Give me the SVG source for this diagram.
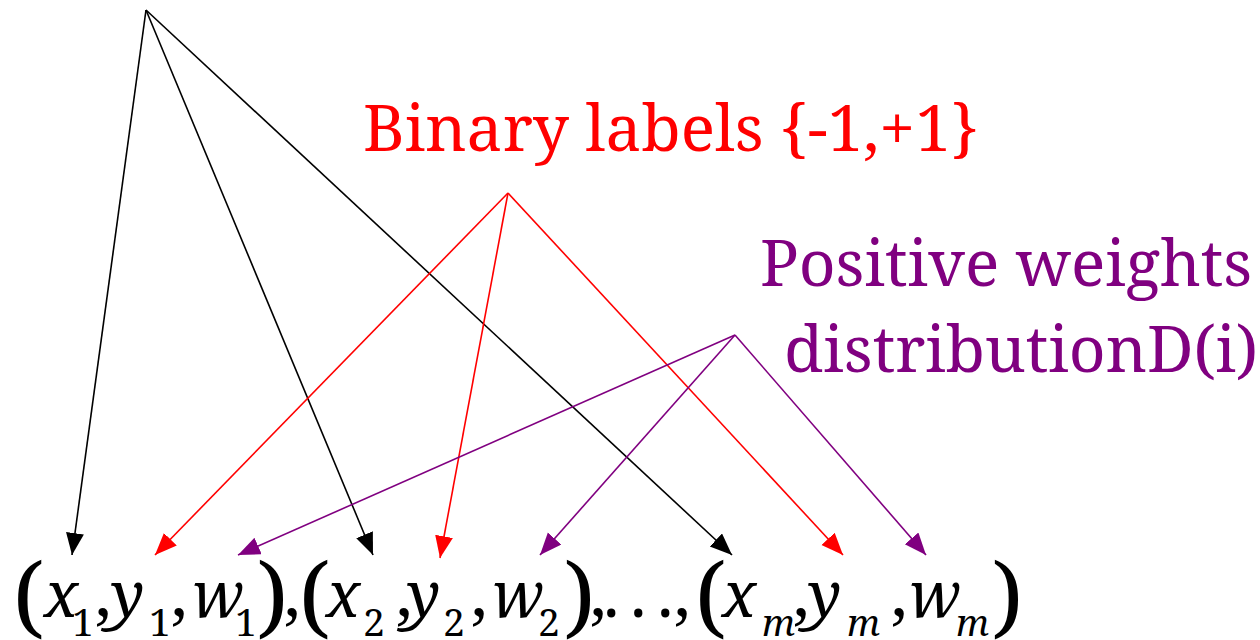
<svg xmlns="http://www.w3.org/2000/svg" width="1260" height="640" viewBox="0 0 1260 640">
<defs>
<style>
.lab{font-size:64px}
.v{font-style:italic;font-size:63px}
.s{font-size:39px}
.si{font-style:italic;font-size:37px}
.c{font-size:66px}
.p{font-size:90px}
.k{stroke:#000;stroke-width:1.6;fill:none}
.r{stroke:#FF0000;stroke-width:1.6;fill:none}
.u{stroke:#800080;stroke-width:1.6;fill:none}
</style>
<marker id="ak" markerUnits="userSpaceOnUse" markerWidth="24" markerHeight="20" refX="22" refY="9" orient="auto"><path d="M0,0 L22,9 L0,18 z" fill="#000"/></marker>
<marker id="ar" markerUnits="userSpaceOnUse" markerWidth="24" markerHeight="20" refX="22" refY="9" orient="auto"><path d="M0,0 L22,9 L0,18 z" fill="#FF0000"/></marker>
<marker id="au" markerUnits="userSpaceOnUse" markerWidth="24" markerHeight="20" refX="22" refY="9" orient="auto"><path d="M0,0 L22,9 L0,18 z" fill="#800080"/></marker>
</defs>
<rect width="1260" height="640" fill="#fff"/>
<g id="connectors">
<line class="k" x1="146" y1="10" x2="72" y2="555" marker-end="url(#ak)"/>
<line class="k" x1="146" y1="10" x2="373" y2="555" marker-end="url(#ak)"/>
<line class="k" x1="146" y1="10" x2="732" y2="555" marker-end="url(#ak)"/>
<line class="r" x1="508" y1="193" x2="155" y2="555" marker-end="url(#ar)"/>
<line class="r" x1="508" y1="193" x2="440" y2="558" marker-end="url(#ar)"/>
<line class="r" x1="508" y1="193" x2="843" y2="555" marker-end="url(#ar)"/>
<line class="u" x1="735" y1="335" x2="238" y2="555" marker-end="url(#au)"/>
<line class="u" x1="735" y1="335" x2="540" y2="555" marker-end="url(#au)"/>
<line class="u" x1="735" y1="335" x2="926" y2="555" marker-end="url(#au)"/>
</g>
<g id="binary-labels">
<text class="lab" x="363" y="151" fill="#FF0000" font-family="Noto Serif">Binary labels {-1,+1}</text>
</g>
<g id="positive-weights">
<text class="lab" x="760" y="286" fill="#800080" font-family="Noto Serif">Positive weights</text>
<text class="lab" x="784" y="372" fill="#800080" font-family="Noto Serif">distributionD(i)</text>
</g>
<g id="formula">
<text class="p" x="13" y="628" font-family="Noto Serif">(</text>
<text class="v" x="44" y="617" font-family="Noto Serif">x</text>
<text class="s" x="72" y="636" font-family="Noto Serif">1</text>
<text class="c" x="95" y="617" font-family="Noto Serif">,</text>
<text class="v" x="111" y="617" font-family="Noto Serif">y</text>
<text class="s" x="149" y="636" font-family="Noto Serif">1</text>
<text class="c" x="171" y="617" font-family="Noto Serif">,</text>
<text class="v" x="192" y="617" font-family="Noto Serif">w</text>
<text class="s" x="235" y="636" font-family="Noto Serif">1</text>
<text class="p" x="257" y="628" font-family="Noto Serif">)</text>
<text class="c" x="284" y="617" font-family="Noto Serif">,</text>
<text class="p" x="299" y="628" font-family="Noto Serif">(</text>
<text class="v" x="326" y="617" font-family="Noto Serif">x</text>
<text class="s" x="363" y="636" font-family="Noto Serif">2</text>
<text class="c" x="396" y="617" font-family="Noto Serif">,</text>
<text class="v" x="407" y="617" font-family="Noto Serif">y</text>
<text class="s" x="443" y="636" font-family="Noto Serif">2</text>
<text class="c" x="471" y="617" font-family="Noto Serif">,</text>
<text class="v" x="492" y="617" font-family="Noto Serif">w</text>
<text class="s" x="538" y="636" font-family="Noto Serif">2</text>
<text class="p" x="564" y="628" font-family="Noto Serif">)</text>
<text class="c" x="590" y="617" font-family="Noto Serif">,</text>
<text class="c" x="603" y="617" font-family="Noto Serif">.</text>
<text class="c" x="630" y="617" font-family="Noto Serif">.</text>
<text class="c" x="657" y="617" font-family="Noto Serif">.</text>
<text class="c" x="674" y="617" font-family="Noto Serif">,</text>
<text class="p" x="695" y="628" font-family="Noto Serif">(</text>
<text class="v" x="722" y="617" font-family="Noto Serif">x</text>
<text class="si" x="762" y="636" font-family="Noto Serif">m</text>
<text class="c" x="793" y="617" font-family="Noto Serif">,</text>
<text class="v" x="808" y="617" font-family="Noto Serif">y</text>
<text class="si" x="847" y="636" font-family="Noto Serif">m</text>
<text class="c" x="891" y="617" font-family="Noto Serif">,</text>
<text class="v" x="909" y="617" font-family="Noto Serif">w</text>
<text class="si" x="956" y="636" font-family="Noto Serif">m</text>
<text class="p" x="992" y="628" font-family="Noto Serif">)</text>
</g>
</svg>
